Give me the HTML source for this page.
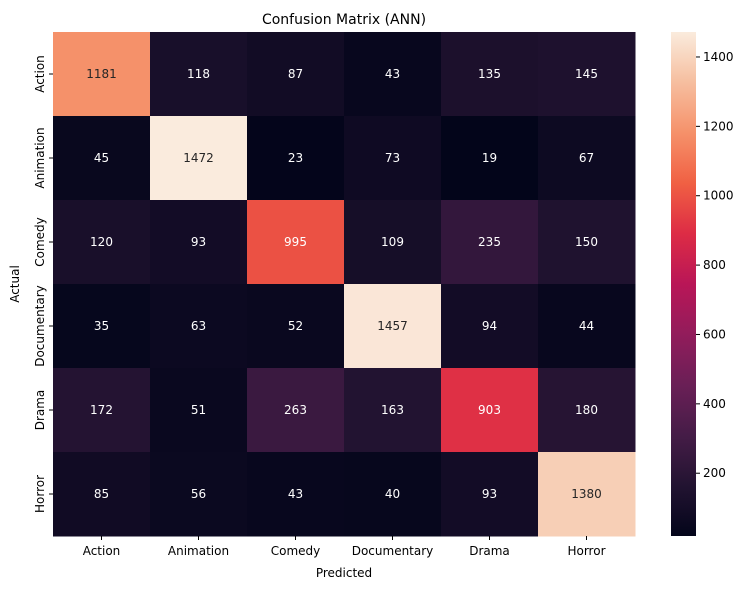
<!DOCTYPE html>
<html><head><meta charset="utf-8"><style>
body{margin:0;background:#fff;}
svg text{font-family:"DejaVu Sans","Liberation Sans",sans-serif;}
</style></head><body>
<svg id="c" width="751" height="590" xmlns="http://www.w3.org/2000/svg">
<text x="344" y="24" font-size="14" text-anchor="middle">Confusion Matrix (ANN)</text>
<text x="344" y="577" font-size="12" text-anchor="middle">Predicted</text>
<text transform="translate(19,284) rotate(-90)" font-size="12" text-anchor="middle">Actual</text>
<g id="cells"></g>
<g id="axes"></g>
<defs><linearGradient id="cg" x1="0" y1="1" x2="0" y2="0"></linearGradient></defs>
<g id="cbar"></g>
</svg>
<script>
const classes=["Action","Animation","Comedy","Documentary","Drama","Horror"];
const row0=[1181,118,87,43,135,145];
const row1=[45,1472,23,73,19,67];
const row2=[120,93,995,109,235,150];
const row3=[35,63,52,1457,94,44];
const row4=[172,51,263,163,903,180];
const row5=[85,56,43,40,93,1380];
const matrix=[row0,row1,row2,row3,row4,row5];
const cbTicks=[200,400,600,800,1000,1200,1400];
const NS="http://www.w3.org/2000/svg";
const L=53,R=635,T=32,B=536;
const n=classes.length;
const cw=(R-L)/n, ch=(B-T)/n;
const all=matrix.flat();
const vmin=Math.min(...all), vmax=Math.max(...all);
const stops=[[3,5,26],[34,19,49],[69,28,71],[106,31,86],[146,28,91],[185,22,87],[221,44,69],[240,96,67],[245,145,106],[246,190,159],[250,235,221]];
function cmap(t){t=Math.max(0,Math.min(1,t));const p=t*(stops.length-1);const i=Math.min(Math.floor(p),stops.length-2);const f=p-i;
 return stops[i].map((v,k)=>v+(stops[i+1][k]-v)*f);}
function rgb(c){return `rgb(${c.map(Math.round).join(',')})`;}
function xs(j){return L+j*cw;} function ys(i){return T+i*ch;}
function mk(tag,attrs,parent){const e=document.createElementNS(NS,tag);for(const k in attrs)e.setAttribute(k,attrs[k]);parent.appendChild(e);return e;}
const cells=document.getElementById('cells');
matrix.forEach((row,i)=>row.forEach((v,j)=>{
 const c=cmap((v-vmin)/(vmax-vmin));
 const r=mk('rect',{x:xs(j),y:ys(i),width:cw+0.5,height:ch+0.5,fill:rgb(c)},cells);
 
 
 const lum=(0.2126*c[0]+0.7152*c[1]+0.0722*c[2])/255;
 const t=mk('text',{x:xs(j)+cw/2,y:ys(i)+ch/2+4,'font-size':12,'text-anchor':'middle',fill:lum>0.5?'#262626':'#fff'},cells);
 t.textContent=v;
 
 
}));
const ax=document.getElementById('axes');
classes.forEach((c,j)=>{
 const x=xs(j)+cw/2;
 mk('line',{x1:x,x2:x,y1:B,y2:B+4,stroke:'#000'},ax);
 const t=mk('text',{x:x,y:B+19,'font-size':12,'text-anchor':'middle'},ax);t.textContent=c;
 
 
 const y=ys(j)+ch/2;
 mk('line',{x1:L-4,x2:L,y1:y,y2:y,stroke:'#000'},ax);
 const u=mk('text',{transform:`translate(${L-9},${y}) rotate(-90)`,'font-size':12,'text-anchor':'middle'},ax);u.textContent=c;
 
 
});
const cb=document.getElementById('cbar');
const CL=671,CW=25;
const g=document.getElementById('cg');
for(let k=0;k<=20;k++){mk('stop',{offset:k/20,'stop-color':rgb(cmap(k/20))},g);}
const bar=mk('rect',{x:CL,y:T,width:CW,height:B-T,fill:'url(#cg)'},cb);


function cy(v){return B-(v-vmin)/(vmax-vmin)*(B-T);}
cbTicks.forEach(v=>{const y=cy(v);
 mk('line',{x1:CL+CW,x2:CL+CW+4,y1:y,y2:y,stroke:'#000'},cb);
 const t=mk('text',{x:CL+CW+7,y:y+4,'font-size':12},cb);t.textContent=v;
 
 
});
</script>
</body></html>
